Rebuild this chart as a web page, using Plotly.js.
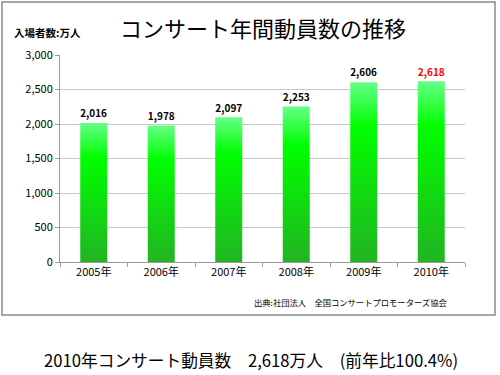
<!DOCTYPE html>
<html><head><meta charset="utf-8">
<script src="https://cdn.plot.ly/plotly-3.0.1.min.js"></script>
<style>html,body{margin:0;padding:0;background:#fff}#chart{width:500px;height:375px}</style>
</head><body><div id="chart"></div>
<script>
const years = ["2005年","2006年","2007年","2008年","2009年","2010年"];
const attendance = [2016, 1978, 2097, 2253, 2606, 2618];
const yTicks = [0, 500, 1000, 1500, 2000, 2500, 3000];
const titleText = "コンサート年間動員数の推移";
const unitText = "入場者数:万人";
const sourceText = "出典:社団法人　全国コンサートプロモーターズ協会";
const summaryText = "2010年コンサート動員数　2,618万人　(前年比100.4%)";

const F = "'Noto Sans CJK JP', 'Noto Sans', sans-serif";
const labelColors = attendance.map((v,i)=> i===attendance.length-1 ? "#ff0000" : "#000000");

const trace = {
  type: "bar", x: years, y: attendance,
  marker: {color: "#00ff00", line: {width: 0}},
  text: attendance.map(v => v.toLocaleString("en-US")),
  textposition: "outside", cliponaxis: false,
  textfont: {family: F, size: 11, color: labelColors, weight: "bold"},
  hoverinfo: "none"
};

const layout = {
  width: 500, height: 375,
  margin: {l: 60, r: 35, t: 55, b: 113},
  paper_bgcolor: "#fff", plot_bgcolor: "#fff",
  bargap: 0.6, showlegend: false,
  font: {family: F, color: "#000"},
  xaxis: {type: "category", showline: true, linecolor: "#9a9a9a", linewidth: 1,
    ticks: "outside", tickson: "boundaries", ticklen: 4, tickcolor: "#9a9a9a",
    tickfont: {family: F, size: 11, color: "#000"}, showgrid: false, fixedrange: true},
  yaxis: {range: [0, 3000], tickvals: yTicks, tickformat: ",", showline: true,
    linecolor: "#9a9a9a", linewidth: 1, ticks: "outside", ticklen: 4, tickcolor: "#9a9a9a",
    gridcolor: "#c8c8c8", gridwidth: 1, zeroline: false,
    tickfont: {family: F, size: 11, color: "#000"}, fixedrange: true},
  shapes: [{type: "rect", xref: "paper", yref: "paper",
    x0: -0.1432, x1: 1.0741, y0: -0.256, y1: 1.256,
    line: {color: "#8a8a8a", width: 1.5}, fillcolor: "rgba(0,0,0,0)", layer: "below"}],
  annotations: [
    {text: titleText, xref: "paper", yref: "paper", x: 0.5, y: 1.135, xanchor: "center", yanchor: "middle",
     showarrow: false, font: {family: F, size: 22, color: "#000"}},
    {text: unitText, xref: "paper", yref: "paper", x: -0.118, y: 1.11, xanchor: "left", yanchor: "middle",
     showarrow: false, font: {family: F, size: 10.5, color: "#000", weight: "bold"}},
    {text: sourceText, xref: "paper", yref: "paper", x: 0.96, y: -0.193, xanchor: "right", yanchor: "middle",
     showarrow: false, font: {family: F, size: 8.3, color: "#000"}},
    {text: summaryText, xref: "paper", yref: "paper", x: 0.472, y: -0.475, xanchor: "center", yanchor: "middle",
     showarrow: false, font: {family: F, size: 16.7, color: "#000"}}
  ]
};

Plotly.newPlot("chart", [trace], layout, {staticPlot: true}).then(gd => {
  const svg = gd.querySelector("svg.main-svg");
  const ns = "http://www.w3.org/2000/svg";
  let defs = svg.querySelector("defs");
  if (!defs) { defs = document.createElementNS(ns, "defs"); svg.insertBefore(defs, svg.firstChild); }
  const lg = document.createElementNS(ns, "linearGradient");
  lg.setAttribute("id", "barGrad");
  lg.setAttribute("x1", "0"); lg.setAttribute("y1", "0"); lg.setAttribute("x2", "0"); lg.setAttribute("y2", "1");
  [["0%", "#66ff88"], ["25%", "#00ff00"], ["100%", "#22b422"]].forEach(([o, c]) => {
    const s = document.createElementNS(ns, "stop");
    s.setAttribute("offset", o); s.setAttribute("stop-color", c); lg.appendChild(s);
  });
  defs.appendChild(lg);
  gd.querySelectorAll(".bars .point path").forEach(p => { p.style.fill = "url(#barGrad)"; });
});
</script></body></html>
